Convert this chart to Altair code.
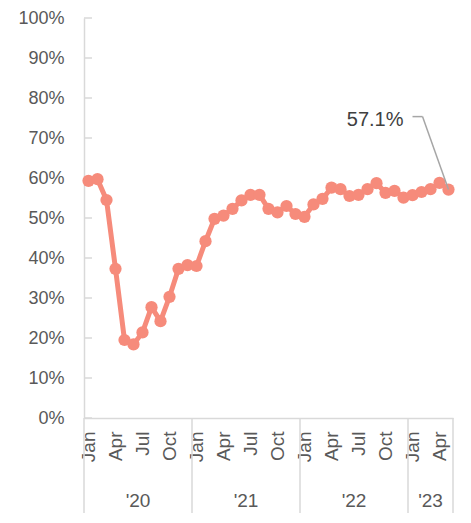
import altair as alt
import pandas as pd

# ---- data ----
years = ["'20", "'21", "'22", "'23"]
month_names = ["Jan", "Feb", "Mar", "Apr", "May", "Jun", "Jul", "Aug", "Sep", "Oct", "Nov", "Dec"]
values_2020 = [59.3, 59.7, 54.5, 37.3, 19.5, 18.4, 21.4, 27.7, 24.2, 30.3, 37.3, 38.2]
values_2021 = [38.0, 44.2, 49.8, 50.6, 52.3, 54.4, 55.8, 55.8, 52.3, 51.4, 53.0, 51.0]
values_2022 = [50.3, 53.4, 54.8, 57.6, 57.2, 55.5, 55.8, 57.2, 58.7, 56.3, 56.8, 55.1]
values_2023 = [55.7, 56.5, 57.2, 58.8, 57.1]
y_ticks = [0, 10, 20, 30, 40, 50, 60, 70, 80, 90, 100]
month_label_names = ["Jan", "Apr", "Jul", "Oct"]

series = [values_2020, values_2021, values_2022, values_2023]
rows = []
i = 0
for yr, vals in zip(years, series):
    for m, v in enumerate(vals):
        rows.append({"pos": i + 0.5, "share": v / 100, "month": month_names[m], "year": yr})
        i += 1
df = pd.DataFrame(rows)
n = len(df)

# year group boundaries and centres
bounds = [0]
for vals in series:
    bounds.append(bounds[-1] + len(vals))
sep_df = pd.DataFrame({"pos": bounds})
year_df = pd.DataFrame({
    "pos": [(bounds[k] + bounds[k + 1]) / 2 for k in range(len(years))],
    "label": years,
})
ytick_df = pd.DataFrame({"share": [t / 100 for t in y_ticks]})
last_df = df.tail(1)

FONT = "Liberation Sans"
LABEL = "#595959"
AXISC = "#D9D9D9"
LINEC = "#F68B7B"
W, H = 369, 400

x_enc = alt.X(
    "pos:Q",
    scale=alt.Scale(domain=[0, n], nice=False, zero=False),
    axis=alt.Axis(
        values=[k + 0.5 for k in range(0, n, 3)],
        labelExpr="['Jan','Apr','Jul','Oct'][floor((datum.value % 12) / 3)]",
        labelAngle=270,
        labelPadding=13,
        labelOverlap=False,
        labelFlush=False,
        ticks=False,
        grid=False,
        title=None,
        domainColor=AXISC,
        domainWidth=1.5,
        labelFont=FONT,
        labelFontSize=19,
        labelColor=LABEL,
    ),
)
y_enc = alt.Y(
    "share:Q",
    scale=alt.Scale(domain=[0, 1], nice=False),
    axis=alt.Axis(
        values=[t / 100 for t in y_ticks],
        format=".0%",
        ticks=False,
        grid=False,
        title=None,
        labelPadding=20,
        domainColor=AXISC,
        domainWidth=1.5,
        labelFont=FONT,
        labelFontSize=18,
        labelColor=LABEL,
    ),
)

yticks = alt.Chart(ytick_df).mark_rule(color=AXISC, strokeWidth=1.5).encode(
    y=y_enc, x=alt.value(0), x2=alt.value(8)
)
seps = alt.Chart(sep_df).mark_rule(color=AXISC, strokeWidth=1.5).encode(
    x=x_enc, y=alt.value(H), y2=alt.value(H + 95)
)
year_text = alt.Chart(year_df).mark_text(
    font=FONT, fontSize=19, color=LABEL, baseline="middle"
).encode(x=x_enc, y=alt.value(H + 83), text="label:N")

line = alt.Chart(df).mark_line(color=LINEC, strokeWidth=5).encode(x=x_enc, y=y_enc)
pts = alt.Chart(df).mark_circle(color=LINEC, size=150, opacity=1).encode(x=x_enc, y=y_enc)

leader_diag = alt.Chart(last_df).mark_rule(
    color="#A6A6A6", strokeWidth=1.5, x2Offset=-26, y2Offset=-73
).encode(x=x_enc, y=y_enc, x2="pos:Q", y2="share:Q")
leader_h = alt.Chart(last_df).mark_rule(
    color="#A6A6A6", strokeWidth=1.5, xOffset=-26, x2Offset=-36, yOffset=-73, y2Offset=-73
).encode(x=x_enc, y=y_enc, x2="pos:Q", y2="share:Q")
ann = alt.Chart(last_df).mark_text(
    align="right", baseline="middle", dx=-45, dy=-70, font=FONT, fontSize=20, color="#404040"
).encode(x=x_enc, y=y_enc, text=alt.Text("share:Q", format=".1%"))

chart = alt.layer(yticks, seps, year_text, line, pts, leader_diag, leader_h, ann).properties(
    width=W,
    height=H,
    autosize=alt.AutoSizeParams(type="none"),
    padding={"left": 76, "top": 10, "right": 10, "bottom": 96},
    background="white",
).configure_view(strokeWidth=0)

chart.save("out.html", embed_options={"renderer": "svg", "actions": False})
